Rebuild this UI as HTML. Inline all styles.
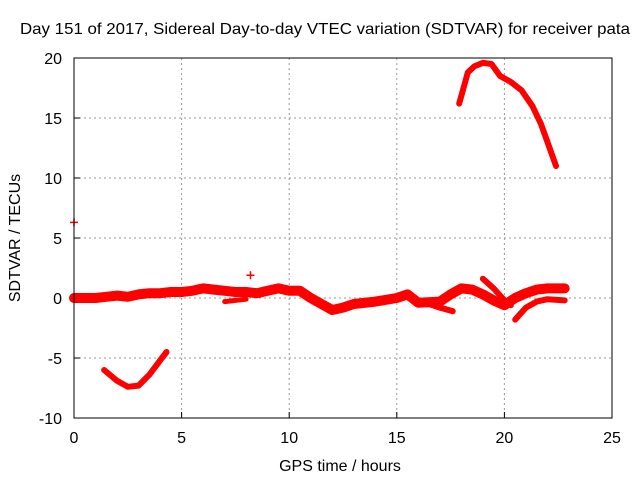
<!DOCTYPE html>
<html><head><meta charset="utf-8"><style>
body{margin:0;background:#fff}
svg text{font-family:"Liberation Sans",sans-serif;font-size:16px;fill:#000}
</style></head><body>
<svg id="c" width="640" height="480" xmlns="http://www.w3.org/2000/svg">
<rect width="640" height="480" fill="#fff"/>
<text x="20" y="34" textLength="610" lengthAdjust="spacingAndGlyphs">Day 151 of 2017, Sidereal Day-to-day VTEC variation (SDTVAR) for receiver pata</text>
<text x="340" y="471" text-anchor="middle">GPS time / hours</text>
<text transform="translate(20,238) rotate(-90)" text-anchor="middle">SDTVAR / TECUs</text>
<g id="grid"></g><g id="marks"></g>
<rect x="74" y="58" width="538" height="360" fill="none" stroke="#000"/>
</svg>
<script>
const xTicks=[0,5,10,15,20,25];
const yTicks=[-10,-5,0,5,10,15,20];
const mainBand=[[0,0],[0.5,0],[1,0],[1.5,0.1],[2,0.2],[2.5,0.1],[3,0.3],[3.5,0.4],[4,0.4],[4.5,0.5],[5,0.5],[5.5,0.6],[6,0.8],[6.5,0.7],[7,0.6],[7.5,0.5],[8,0.5],[8.5,0.4],[9,0.6],[9.5,0.8],[10,0.6],[10.5,0.6],[11,0],[11.5,-0.5],[12,-1],[12.5,-0.8],[13,-0.5],[14,-0.3],[15,0],[15.5,0.3],[16,-0.4],[17,-0.3],[17.5,0.3],[18,0.8],[18.5,0.7],[19,0.3],[19.5,-0.2],[20,-0.6],[20.5,0],[21,0.4],[21.5,0.7],[22,0.8],[22.8,0.8]];
const branchA=[[7,-0.3],[7.5,-0.2],[8,-0.1]];
const branchB=[[16.5,-0.5],[17,-0.8],[17.6,-1.1]];
const branchC=[[19,1.6],[19.5,0.8],[20,-0.2],[20.3,-0.6]];
const branchD=[[20.5,-1.8],[21,-0.8],[21.5,-0.3],[22,-0.1],[22.8,-0.2]];
const negCurve=[[1.4,-6],[2,-6.9],[2.5,-7.4],[3,-7.3],[3.5,-6.4],[4,-5.2],[4.3,-4.5]];
const topCurve=[[17.9,16.2],[18.1,17.5],[18.3,18.8],[18.6,19.3],[19,19.6],[19.4,19.5],[19.8,18.5],[20.3,18],[20.8,17.3],[21.3,16],[21.7,14.5],[22,13],[22.4,11]];
const outliers=[[0,6.3],[8.2,1.9]];
const NS="http://www.w3.org/2000/svg";
const X=v=>74+v*538/25, Y=v=>418-(v+10)*12;
function mk(t,a,p){const e=document.createElementNS(NS,t);for(const k in a)e.setAttribute(k,a[k]);p.appendChild(e);return e;}
const g=document.getElementById('grid'),m=document.getElementById('marks');
xTicks.forEach(t=>{
 if(t>0&&t<25){const l=mk('line',{x1:X(t),x2:X(t),y1:58,y2:418,stroke:'#999','stroke-dasharray':'2,3'},g);
 
 }
 mk('line',{x1:X(t),x2:X(t),y1:418,y2:412,stroke:'#000'},g);
 const s=mk('text',{x:X(t),y:443,'text-anchor':'middle'},g);s.textContent=t;
 
 
});
yTicks.forEach(t=>{
 if(t>-10&&t<20){const l=mk('line',{x1:74,x2:612,y1:Y(t),y2:Y(t),stroke:'#999','stroke-dasharray':'2,3'},g);
 
 }
 mk('line',{x1:74,x2:80,y1:Y(t),y2:Y(t),stroke:'#000'},g);
 const s=mk('text',{x:62,y:Y(t)+6,'text-anchor':'end'},g);s.textContent=t;
 
 
});
function series(d,w,name){
 const p=mk('polyline',{points:d.map(q=>X(q[0])+','+Y(q[1])).join(' '),fill:'none',stroke:'#f00','stroke-width':w,'stroke-linejoin':'round','stroke-linecap':'round'},m);
 
 
}
series(mainBand,10,'sdtvar-main-band');
series(branchA,5,'sdtvar-branch-a');
series(branchB,6,'sdtvar-branch-b');
series(branchC,6,'sdtvar-branch-c');
series(branchD,6,'sdtvar-branch-d');
series(negCurve,6,'sdtvar-negative-arc');
series(topCurve,6,'sdtvar-top-arc');
outliers.forEach(q=>{
 const p=mk('path',{d:`M${X(q[0])-4},${Y(q[1])}h8M${X(q[0])},${Y(q[1])-4}v8`,stroke:'#f00','stroke-width':1.5},m);
 
 
});
</script>
</body></html>
